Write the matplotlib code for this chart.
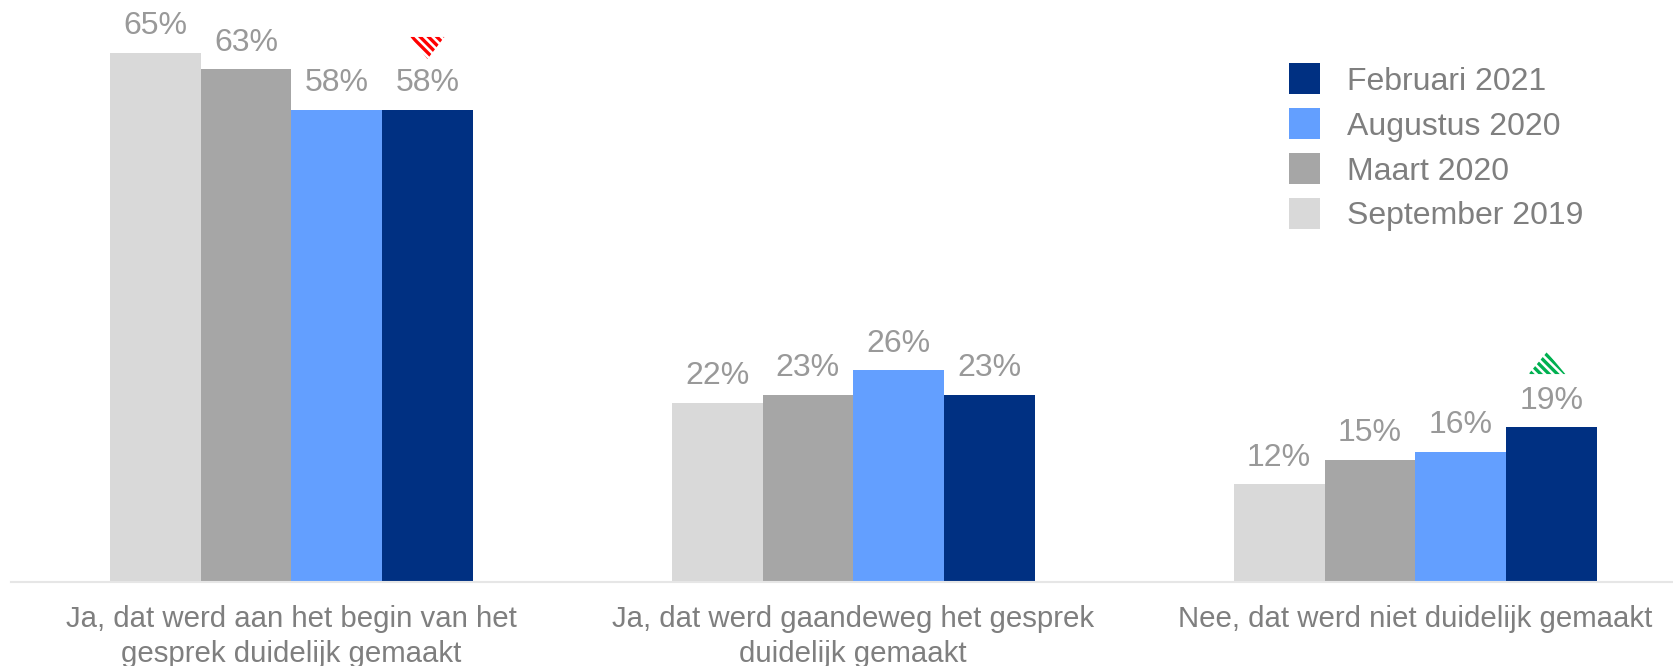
import matplotlib
matplotlib.use("Agg")
import matplotlib.pyplot as plt
import numpy as np
from matplotlib.patches import Patch

plt.rcParams['font.family'] = ['Liberation Sans', 'DejaVu Sans']
plt.rcParams['hatch.linewidth'] = 2.4

categories = ["Ja, dat werd aan het begin van het\ngesprek duidelijk gemaakt",
              "Ja, dat werd gaandeweg het gesprek\nduidelijk gemaakt",
              "Nee, dat werd niet duidelijk gemaakt"]
series_names = ["September 2019", "Maart 2020", "Augustus 2020", "Februari 2021"]
sep_2019 = [65, 22, 12]
mrt_2020 = [63, 23, 15]
aug_2020 = [58, 26, 16]
feb_2021 = [58, 23, 19]
colors = ["#D9D9D9", "#A6A6A6", "#639FFF", "#003082"]

W, H = 1673, 666
C0, STEP = 291.3, 562.0
fig = plt.figure(figsize=(W / 100, H / 100), dpi=100, facecolor='white')
ax = fig.add_axes([11 / W, 1 - 582 / H, (W - 11) / W, 582 / H])
ax.set_xlim((11 - C0) / STEP, (W - C0) / STEP)
ax.set_ylim(0, 582 / 8.14)

x = np.arange(len(categories))
width = 90.75 / STEP
fs = 23
for i, (vals, col) in enumerate(zip([sep_2019, mrt_2020, aug_2020, feb_2021], colors)):
    pos = x + (i - 1.5) * width
    ax.bar(pos, vals, width, color=col, label=series_names[i], linewidth=0)
    for px, v in zip(pos, vals):
        ax.annotate(f"{v}%", (px, v), xytext=(0, 13.4), textcoords='offset points',
                    ha='center', va='baseline', fontsize=fs, color='#999999',
                    annotation_clip=False)

# significance markers: hatched triangles above the Februari 2021 bars
tri_down = [(-1, 0.65), (1, 0.65), (0, -0.65), (-1, 0.65)]
tri_up = [(-1, -0.6), (1, -0.6), (0, 0.6), (-1, -0.6)]
ax.scatter([x[0] + 1.5 * width], [65.6], marker=tri_down, s=24.5 ** 2, facecolor='white',
           edgecolor='#FF0000', hatch='\\\\\\\\', linewidth=0, clip_on=False, zorder=3)
ax.scatter([x[2] + 1.5 * width - 0.008], [26.9], marker=tri_up, s=26.5 ** 2, facecolor='white',
           edgecolor='#00B050', hatch='\\\\\\\\', linewidth=0, clip_on=False, zorder=3)

ax.set_xticks(x)
ax.set_xticklabels(categories, fontsize=21.15, color='#7F7F7F', linespacing=1.3)
ax.tick_params(axis='x', length=0, pad=16.7)
ax.set_yticks([])
for s in ['top', 'left', 'right']:
    ax.spines[s].set_visible(False)
ax.spines['bottom'].set_color('#E6E6E6')
ax.spines['bottom'].set_linewidth(1.5)
ax.patch.set_alpha(0)

handles = [Patch(facecolor=c, edgecolor='none', label=n) for c, n in zip(colors, series_names)][::-1]
ax.legend(handles=handles, loc='upper left', bbox_to_anchor=(1289 / W, 1 - 63.5 / H),
          bbox_transform=fig.transFigure, frameon=False, fontsize=fs,
          labelcolor='#7F7F7F', handlelength=0.97, handleheight=1.115, handletextpad=0.84,
          labelspacing=0.36, borderpad=0, borderaxespad=0)

fig.savefig("out.png", dpi=100, facecolor='white')
